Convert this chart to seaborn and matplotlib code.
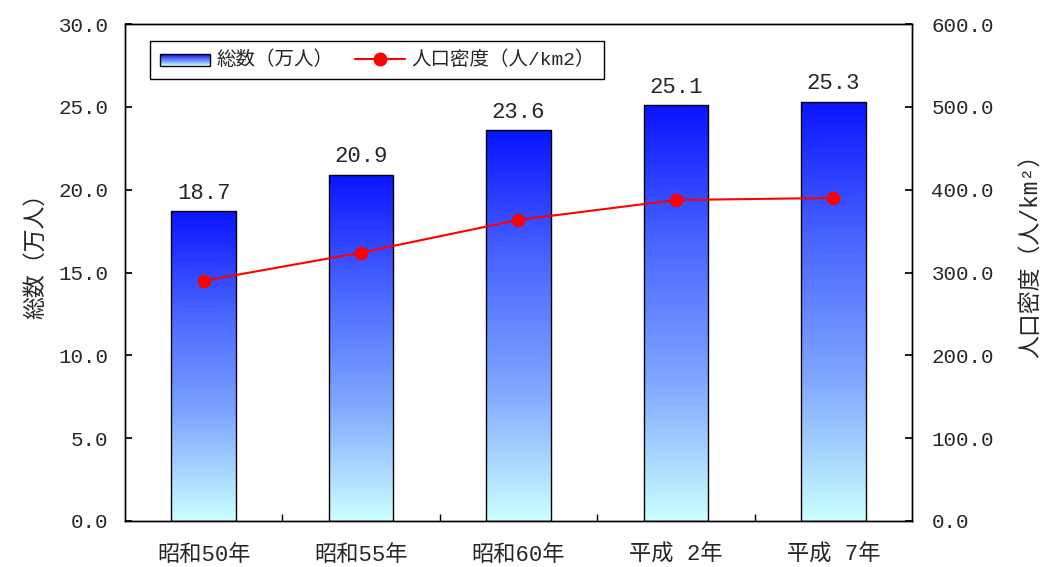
import numpy as np
import pandas as pd
import matplotlib
matplotlib.use("Agg")
import matplotlib.pyplot as plt
import seaborn as sns
from matplotlib.colors import LinearSegmentedColormap
from matplotlib.patches import Rectangle
from matplotlib.legend_handler import HandlerBase
from matplotlib.lines import Line2D

categories = ["昭和50年", "昭和55年", "昭和60年", "平成 2年", "平成 7年"]
total = [18.7, 20.9, 23.6, 25.1, 25.3]
density = [290, 324, 363.5, 387.5, 390]
left_ticks = [0, 5, 10, 15, 20, 25, 30]
right_ticks = [0, 100, 200, 300, 400, 500, 600]

sns.set_theme(style="white")
plt.rcParams['font.family'] = ['Liberation Mono', 'Noto Sans CJK JP', 'DejaVu Sans']
plt.rcParams['font.size'] = 15

cmap = LinearSegmentedColormap.from_list("g", ["#ccffff", "#80a8ff", "#4a66ff", "#0a14ff"])

df = pd.DataFrame({"cat": categories, "total": total, "density": density})

fig = plt.figure(figsize=(10.43, 5.67), dpi=100)
ax = fig.add_axes([125/1043, 1-521/567, (912-125)/1043, (521-24)/567])

sns.barplot(data=df, x="cat", y="total", ax=ax, width=0.41, color="white",
            edgecolor="black", linewidth=1.0, zorder=2)
grad = np.linspace(0, 1, 256).reshape(-1, 1)
for p in ax.patches:
    x0, w, h = p.get_x(), p.get_width(), p.get_height()
    im = ax.imshow(grad, extent=[x0, x0 + w, 0, h], origin="lower", aspect="auto",
                   cmap=cmap, zorder=2.5)
    im.set_clip_path(p)
    p.set_facecolor("none")
    p.set_zorder(3)
    ax.text(x0 + w / 2, h + 0.45, f"{h:.1f}", ha="center", va="bottom", fontsize=16, zorder=5)

ax.set_xlim(-0.5, 4.5)
ax.set_ylim(0, 30)
ax.set_yticks(left_ticks)
ax.set_yticklabels([f"{v:.1f}" for v in left_ticks], fontsize=15)
ax.set_xlabel("")
ax.set_ylabel("総数（万人）", fontsize=16.5, labelpad=8)
ax.yaxis.label.set_y(0.545)
ax.tick_params(axis="x", length=0, pad=17, labelsize=16)
ax.set_xticks(np.arange(0.5, 4, 1), minor=True)
ax.tick_params(axis="x", which="minor", direction="in", length=5, color="black", bottom=True)
ax.tick_params(axis="y", direction="in", length=5, color="black", left=True, pad=12)
for s in ax.spines.values():
    s.set_color("black")
    s.set_linewidth(1.0)

ax2 = ax.twinx()
sns.lineplot(data=df, x="cat", y="density", ax=ax2, color="red", linewidth=1.5,
             marker="o", markersize=9, markeredgecolor="red", sort=False, zorder=6)
ax2.set_ylim(0, 600)
ax2.set_yticks(right_ticks)
ax2.set_yticklabels([f"{v:.1f}" for v in right_ticks], fontsize=15)
ax2.set_ylabel("人口密度（人/km²）", fontsize=16.5, labelpad=18)
ax2.yaxis.label.set_y(0.545)
ax2.tick_params(axis="y", direction="in", length=5, color="black", right=True, pad=14)
ax2.set_xlim(-0.5, 4.5)
for s in ax2.spines.values():
    s.set_color("black")
    s.set_linewidth(1.0)


class GradHandler(HandlerBase):
    def create_artists(self, legend, orig_handle, xd, yd, width, height, fontsize, trans):
        arts = []
        n = 12
        for i in range(n):
            c = cmap(1 - i / (n - 1))
            r = Rectangle((xd, yd + height - (i + 1) * height / n), width, height / n,
                          facecolor=c, edgecolor="none", transform=trans)
            arts.append(r)
        arts.append(Rectangle((xd, yd), width, height, facecolor="none",
                              edgecolor="black", lw=1, transform=trans))
        return arts


bar_handle = Rectangle((0, 0), 1, 1)
line_handle = Line2D([], [], color="red", lw=1.5, marker="o", markersize=9)
leg = ax2.legend([bar_handle, line_handle], ["総数（万人）", "人口密度（人/km2）"],
                 handler_map={Rectangle: GradHandler()}, loc="upper left",
                 bbox_to_anchor=(25/787, 1-17/497), borderaxespad=0, ncol=2,
                 frameon=True, fancybox=False,
                 edgecolor="black", fontsize=14, handlelength=2.6, handleheight=0.6,
                 columnspacing=1.1, borderpad=0.5, handletextpad=0.3)
leg.get_frame().set_linewidth(1.0)
leg.get_frame().set_alpha(1)

fig.savefig("out.png", dpi=100)
